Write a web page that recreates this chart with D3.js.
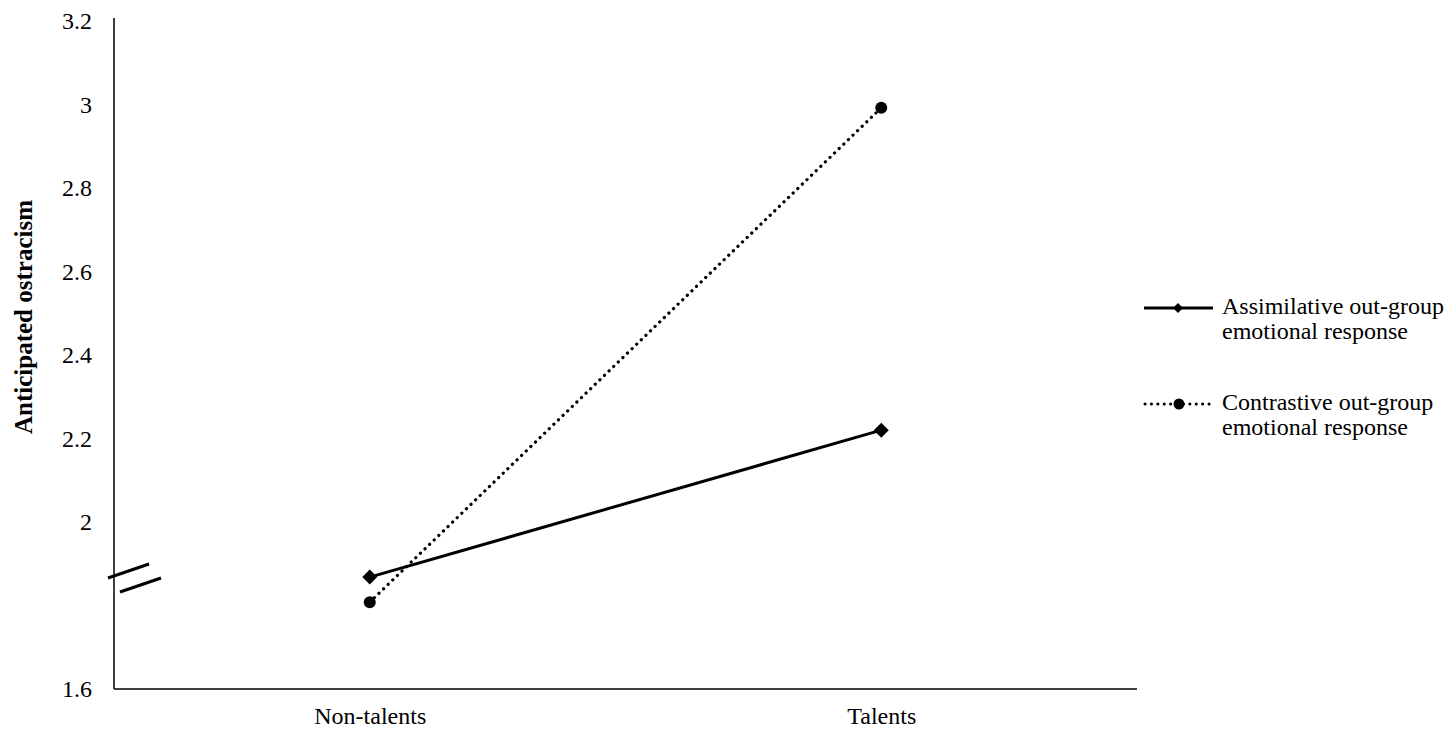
<!DOCTYPE html>
<html><head><meta charset="utf-8">
<script src="https://cdn.jsdelivr.net/npm/d3@7"></script>
<style>body{margin:0;background:#fff}svg{display:block}text{font-family:"Liberation Serif","Times New Roman",serif;fill:#000}</style>
</head><body><svg id="c" width="1447" height="733"></svg>
<script>
const categories = ["Non-talents", "Talents"];
const assimilative = [1.868, 2.22];
const contrastive = [1.808, 2.992];
const yTicks = [1.6, 2, 2.2, 2.4, 2.6, 2.8, 3, 3.2];
const seriesNames = [["Assimilative out-group", "emotional response"], ["Contrastive out-group", "emotional response"]];

const svg = d3.select("#c");
const L = 114, R = 1137, T = 21, B = 689;
const FS = 24;
const x = d3.scalePoint().domain(categories).range([L, R]).padding(0.5);
const y = d3.scaleLinear().domain([1.6, 3.2]).range([B, T]);

// axes
const yAx = svg.append("g").attr("transform", `translate(${L},0)`)
  .call(d3.axisLeft(y).tickValues(yTicks).tickSize(0).tickPadding(22).tickFormat(d => d3.format("")(+d.toFixed(1))));
yAx.select(".domain").attr("stroke", "#000").attr("stroke-width", 1.5).attr("d", `M0,${T-3}V${B}`);
yAx.selectAll("text").attr("font-size", FS).attr("font-family", "Liberation Serif");

const xAx = svg.append("g").attr("transform", `translate(0,${B})`)
  .call(d3.axisBottom(x).tickSize(0).tickPadding(18));
xAx.select(".domain").attr("stroke", "#000").attr("stroke-width", 1.5).attr("d", `M${L},0H${R}`);
xAx.selectAll("text").attr("font-size", FS).attr("font-family", "Liberation Serif");

// axis break
const brk = svg.append("g").attr("stroke", "#000").attr("stroke-width", 3);
brk.append("line").attr("x1", 108).attr("y1", 578).attr("x2", 149).attr("y2", 564);
brk.append("line").attr("x1", 120).attr("y1", 592).attr("x2", 161).attr("y2", 578);

// y title
svg.append("text").attr("transform", `translate(32,317) rotate(-90)`)
  .attr("text-anchor", "middle").attr("font-size", 25).attr("font-weight", "bold").text("Anticipated ostracism");

const line = d3.line().x((d, i) => x(categories[i])).y(d => y(d));
svg.append("path").datum(assimilative).attr("d", line).attr("fill", "none").attr("stroke", "#000").attr("stroke-width", 3);
svg.append("path").datum(contrastive).attr("d", line).attr("fill", "none").attr("stroke", "#000").attr("stroke-width", 3.2)
  .attr("stroke-dasharray", "0.1 6.3").attr("stroke-linecap", "round");

const diamond = (s) => `M0,${-s}L${s},0L0,${s}L${-s},0Z`;
svg.selectAll(".dm").data(assimilative).enter().append("path")
  .attr("transform", (d, i) => `translate(${x(categories[i])},${y(d)})`).attr("d", diamond(7.5)).attr("fill", "#000");
svg.selectAll(".ci").data(contrastive).enter().append("circle")
  .attr("cx", (d, i) => x(categories[i])).attr("cy", d => y(d)).attr("r", 6).attr("fill", "#000");

// legend
const lg = svg.append("g");
const ly = [308, 404];
lg.append("line").attr("x1", 1144).attr("x2", 1213).attr("y1", ly[0]).attr("y2", ly[0]).attr("stroke", "#000").attr("stroke-width", 3);
lg.append("path").attr("transform", `translate(1178,${ly[0]})`).attr("d", diamond(5)).attr("fill", "#000");
lg.append("line").attr("x1", 1145).attr("x2", 1213).attr("y1", ly[1]).attr("y2", ly[1]).attr("stroke", "#000").attr("stroke-width", 3)
  .attr("stroke-dasharray", "0.1 6.3").attr("stroke-linecap", "round");
lg.append("circle").attr("cx", 1179).attr("cy", ly[1]).attr("r", 5.5).attr("fill", "#000");
seriesNames.forEach((nm, k) => {
  nm.forEach((t, j) => {
    lg.append("text").attr("x", 1222).attr("y", ly[k] + 6 + j * 25).attr("font-size", FS).text(t);
  });
});
</script></body></html>
